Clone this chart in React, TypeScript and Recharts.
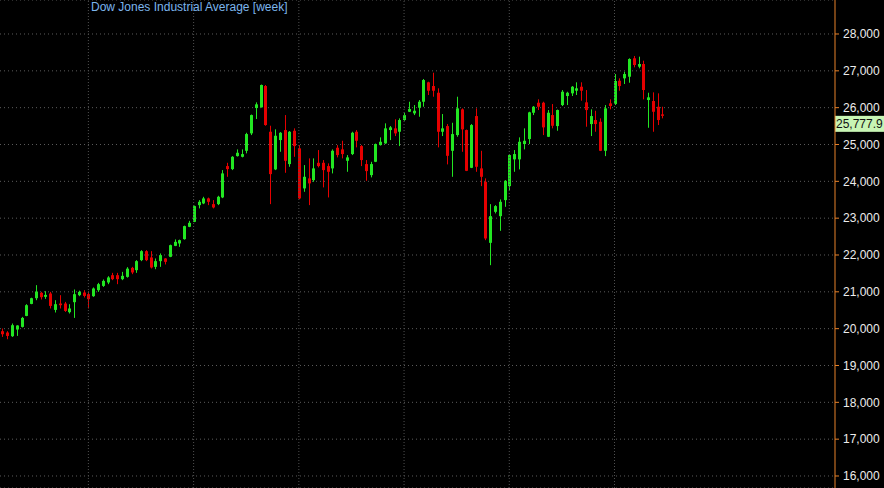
import React from 'react';
import {
  ComposedChart,
  Bar,
  XAxis,
  YAxis,
  CartesianGrid,
  ReferenceLine,
} from 'recharts';

// weekly candles, Jan 2017 .. late Aug 2019
const opens = [
  19931, 19895, 19795, 19977, 20048, 20346, 20672, 20827, 20971, 20864,
  20955, 20509, 20682, 20682, 20447, 20719, 20909, 20982, 20936, 20882,
  21045, 21161, 21254, 21452, 21452, 21344, 21406, 21651, 21588, 21860,
  22104, 21933, 21678, 21833, 21906, 21950, 22248, 22313, 22430, 22765,
  22900, 23354, 23400, 23536, 23381, 23381, 23563, 24414, 24332, 24685,
  24666, 24829, 25302, 25990, 26009, 26587, 25346, 24324, 25120, 25392,
  24468, 25373, 24895, 23808, 24080, 24033, 24503, 24503, 24414, 24351,
  24911, 24867, 24558, 24740, 25346, 24957, 24468, 24169, 24531, 24984,
  25030, 25392, 25438, 25346, 25664, 25889, 25845, 25998, 26161, 26688,
  26587, 26405, 25346, 25500, 24829, 25256, 25954, 25392, 24367, 25772,
  24351, 23987, 22330, 23172, 23055, 23490, 23870, 24596, 24596, 25012,
  25147, 25862, 26134, 26134, 25210, 25799, 25500, 26071, 26316, 26389,
  26460, 26568, 26144, 25555, 25664, 25617, 24829, 26117, 26098, 26731,
  26796, 26840, 27340, 27112, 27185, 26207, 26180, 26025, 25818,
];

const highs = [
  20004, 19931, 20140, 20094, 20319, 20664, 20840, 21181, 20998, 21018,
  20998, 20773, 20909, 20727, 20664, 21063, 21031, 21045, 20998, 21118,
  21243, 21335, 21425, 21515, 21515, 21542, 21670, 21678, 21860, 22131,
  22131, 22104, 21906, 22042, 21914, 22281, 22422, 22417, 22797, 22927,
  23341, 23490, 23580, 23558, 23490, 23607, 24305, 24503, 24685, 24867,
  24867, 25318, 25813, 26144, 26628, 26615, 25509, 25411, 25337, 25799,
  25365, 25438, 24984, 24441, 24623, 24623, 24849, 24577, 24487, 24867,
  24984, 25101, 24713, 25346, 25392, 24984, 24577, 24530, 25025, 25193,
  25574, 25501, 25683, 25710, 25862, 26161, 26071, 26207, 26778, 26704,
  26949, 26525, 25827, 25555, 25590, 26297, 25981, 25405, 25555, 25981,
  24829, 24080, 23381, 23354, 23509, 24033, 24740, 24849, 25193, 25438,
  25889, 26044, 26226, 26161, 25935, 26098, 25949, 26478, 26432, 26587,
  26688, 26688, 26478, 25954, 25916, 25710, 26071, 26226, 26913, 26796,
  26976, 27340, 27403, 27384, 27275, 26405, 26416, 26389, 26025,
];

const lows = [
  19776, 19713, 19776, 19803, 20031, 20338, 20664, 20773, 20792, 20808,
  20548, 20439, 20548, 20455, 20411, 20292, 20882, 20846, 20548, 20864,
  20998, 21134, 21208, 21317, 21208, 21317, 21385, 21479, 21515, 21833,
  21833, 21634, 21615, 21678, 21743, 21941, 22240, 22221, 22417, 22756,
  22892, 23265, 23381, 23354, 23265, 23354, 23544, 24123, 24305, 24672,
  24650, 24759, 25256, 25691, 26003, 25509, 23381, 24305, 24802, 24232,
  24395, 24666, 23517, 23715, 23354, 23987, 24378, 23835, 23563, 24215,
  24650, 24623, 24259, 24713, 24922, 24414, 24014, 24107, 24522, 24971,
  25017, 25120, 25229, 24957, 25645, 25881, 25799, 25753, 26025, 26343,
  26297, 24922, 25229, 24460, 24123, 25210, 24802, 24278, 24359, 24259,
  23870, 22403, 21724, 23129, 22656, 23308, 23761, 24259, 24324, 24867,
  25012, 25799, 25935, 25256, 25202, 25438, 25373, 26044, 26071, 26316,
  26343, 26188, 25482, 25229, 25346, 24821, 24685, 25954, 26071, 26460,
  26642, 26677, 27095, 27068, 26226, 25454, 25346, 25528, 25710,
];

const closes = [
  19849, 19803, 20094, 20086, 20292, 20637, 20827, 21009, 20855, 20917,
  20618, 20664, 20637, 20482, 20548, 20936, 20998, 20890, 20800, 21091,
  21208, 21297, 21390, 21344, 21344, 21434, 21629, 21526, 21833, 22104,
  21860, 21661, 21833, 21996, 21814, 22267, 22357, 22403, 22784, 22873,
  23327, 23444, 23536, 23444, 23291, 23580, 24215, 24332, 24666, 24775,
  24740, 25283, 25799, 26090, 26615, 25528, 24196, 25237, 25318, 24558,
  25346, 24957, 23536, 24123, 23944, 24351, 24414, 24305, 24259, 24829,
  24713, 24740, 24650, 25318, 25101, 24577, 24278, 24468, 25012, 25074,
  25438, 25465, 25302, 25664, 25799, 25962, 25916, 26161, 26750, 26460,
  26460, 25346, 25438, 24693, 25283, 25981, 25411, 24286, 25528, 24395,
  24123, 22449, 23055, 23327, 23444, 24014, 24713, 24740, 25074, 25101,
  25873, 26025, 26025, 25465, 25862, 25509, 25935, 26432, 26405, 26568,
  26525, 26460, 25935, 25772, 25555, 24829, 25981, 26044, 26723, 26587,
  26913, 27321, 27158, 27185, 26479, 26280, 25889, 25664, 25777.9,
];

const yTicks = [
  16000, 17000, 18000, 19000, 20000, 21000, 22000,
  23000, 24000, 25000, 26000, 27000, 28000,
];

// weeks carrying a vertical dotted grid line
const markWeeks = [18, 40, 62, 84, 106, 128];

const lastPrice = 25777.9;

const data = closes.map((c, i) => ({
  i,
  open: opens[i],
  high: highs[i],
  low: lows[i],
  close: c,
  range: [lows[i], highs[i]],
}));

const UP = '#22e622';
const DOWN = '#e60000';

const fmt = (v: number) => v.toLocaleString('en-US');

const Candle = (props: any) => {
  const { x, y, width, height, payload } = props;
  if (x == null || y == null) return null;
  const top = Math.min(y, y + height);
  const h = Math.abs(height);
  const span = payload.high - payload.low || 1;
  const toY = (v: number) => top + ((payload.high - v) / span) * h;
  const cx = Math.round(x + width / 2) + 0.5;
  const color = payload.close >= payload.open ? UP : DOWN;
  const bTop = toY(Math.max(payload.open, payload.close));
  const bBot = toY(Math.min(payload.open, payload.close));
  return (
    <g>
      <line x1={cx} x2={cx} y1={top} y2={top + h} stroke={color} strokeWidth={1} />
      <rect x={cx - 1.5} y={bTop} width={3} height={Math.max(bBot - bTop, 1)} fill={color} />
    </g>
  );
};

const PriceTag = (props: any) => {
  const vb = props.viewBox || {};
  const x = vb.x + vb.width;
  const y = vb.y;
  return (
    <g>
      <rect x={x} y={y} width={50} height={16} fill="#c8f5b4" />
      <text x={x + 1} y={y + 12.5} fontSize={12} fill="#111">
        {fmt(lastPrice)}
      </text>
    </g>
  );
};

export default function App() {
  return (
    <div
      style={{
        position: 'absolute',
        left: 0,
        top: 0,
        width: 884,
        height: 488,
        background: '#000',
        fontFamily: 'Arial, "Liberation Sans", sans-serif',
        overflow: 'hidden',
      }}
    >
      <ComposedChart
        width={884}
        height={488}
        data={data}
        margin={{ top: 0, right: 0, bottom: 0, left: 0 }}
      >
        <CartesianGrid
          vertical={false}
          stroke="#5c5c5c"
          strokeDasharray="1 3"
        />
        <XAxis type="number" dataKey="i" domain={[-0.48, 174.1]} hide />
        <YAxis
          orientation="right"
          width={49}
          domain={[15674, 28923]}
          ticks={yTicks}
          interval={0}
          allowDataOverflow
          tickFormatter={fmt}
          axisLine={{ stroke: '#e8822a' }}
          tickLine={{ stroke: '#e8822a' }}
          tickSize={4}
          tickMargin={4}
          tick={{ fill: '#ececec', fontSize: 12 }}
        />
        {markWeeks.map((w) => (
          <ReferenceLine key={w} x={w} stroke="#505050" strokeDasharray="1 2" />
        ))}
        <Bar
          dataKey="range"
          barSize={3}
          shape={<Candle />}
          isAnimationActive={false}
        />
        <ReferenceLine y={lastPrice} stroke="none" label={<PriceTag />} />
      </ComposedChart>
      <div
        style={{
          position: 'absolute',
          left: 91,
          top: 0,
          fontSize: 12,
          color: '#7cb5ec',
          whiteSpace: 'nowrap',
        }}
      >
        Dow Jones Industrial Average [week]
      </div>
    </div>
  );
}
